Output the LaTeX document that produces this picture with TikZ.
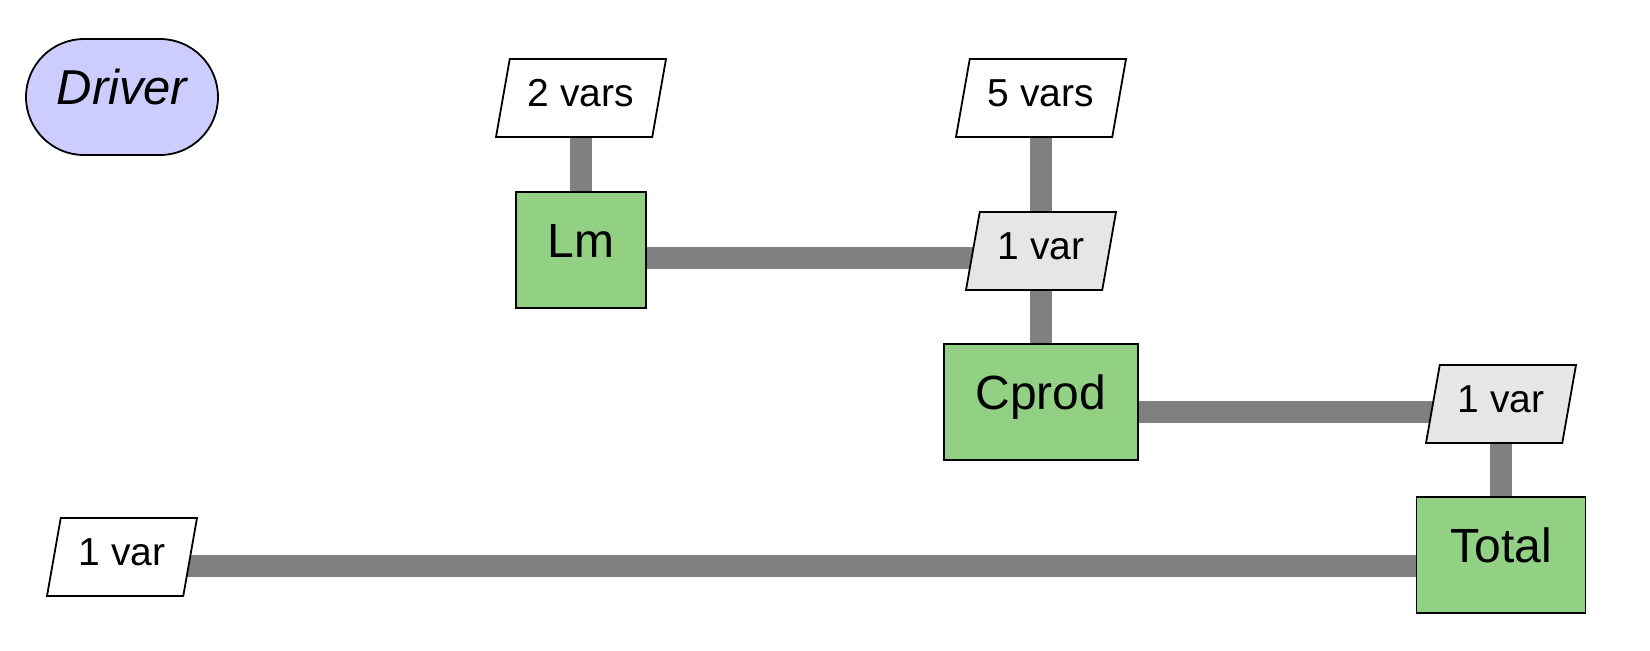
\documentclass[tikz,border=0pt]{standalone}
\usepackage{fontspec}
\setmainfont{Liberation Sans}
\usetikzlibrary{shapes.geometric,backgrounds}
\definecolor{boxgreen}{RGB}{146,208,132}
\definecolor{drvblue}{RGB}{204,204,255}
\definecolor{pargray}{RGB}{230,230,230}
\definecolor{conngray}{RGB}{128,128,128}
\begin{document}
\begin{tikzpicture}[x=0.5pt,y=-0.5pt,
  compbox/.style={draw=black, line width=0.9pt, fill=boxgreen, minimum height=58pt, inner sep=0pt,
    font=\fontsize{24}{28}\selectfont, text height=0.72em, text depth=0em},
  param/.style={trapezium, trapezium left angle=80, trapezium right angle=100, trapezium stretches body,
    draw=black, line width=0.9pt, fill=white, minimum width=85pt, inner xsep=0pt, inner ysep=15.3pt,
    font=\fontsize{19.5}{23}\selectfont, text height=0.84em, text depth=0em},
  onevar/.style={param, minimum width=75pt},
  drv/.style={draw=black, line width=0.9pt, fill=drvblue, rounded corners=29pt, minimum width=96pt,
    minimum height=58pt, inner sep=0pt, font=\fontsize{24.5}{29}\selectfont\itshape, text height=0.72em, text depth=0em},
  conn/.style={draw=conngray, line width=11pt}]
\useasboundingbox (0,0) rectangle (1650,650);
\node[drv] (driver) at (122,97) {Driver};
\node[param] (p2) at (581,98) {2 vars};
\node[compbox, minimum width=65pt] (lm) at (581,250) {Lm};
\node[param] (p5) at (1041,98) {5 vars};
\node[onevar, fill=pargray] (v1) at (1041,251) {1 var};
\node[compbox, minimum width=97pt] (cprod) at (1041,402) {Cprod};
\node[onevar, fill=pargray] (v2) at (1501,404) {1 var};
\node[compbox, minimum width=84.5pt] (total) at (1501,555) {Total};
\node[onevar] (v3) at (122,557) {1 var};
\begin{scope}[on background layer]
\draw[conn] (p2.center) -- (lm.center);
\draw[conn] (p5.center) -- (cprod.center);
\draw[conn] (v2.center) -- (total.center);
\draw[conn] ([yshift=-4.2pt]lm.center) -- ([yshift=-4.2pt]lm.center -| v1.center);
\draw[conn] ([yshift=-5pt]cprod.center) -- ([yshift=-5pt]cprod.center -| v2.center);
\draw[conn] ([yshift=-5.5pt]total.center) -- ([yshift=-5.5pt]total.center -| v3.center);
\end{scope}
\end{tikzpicture}
\end{document}
